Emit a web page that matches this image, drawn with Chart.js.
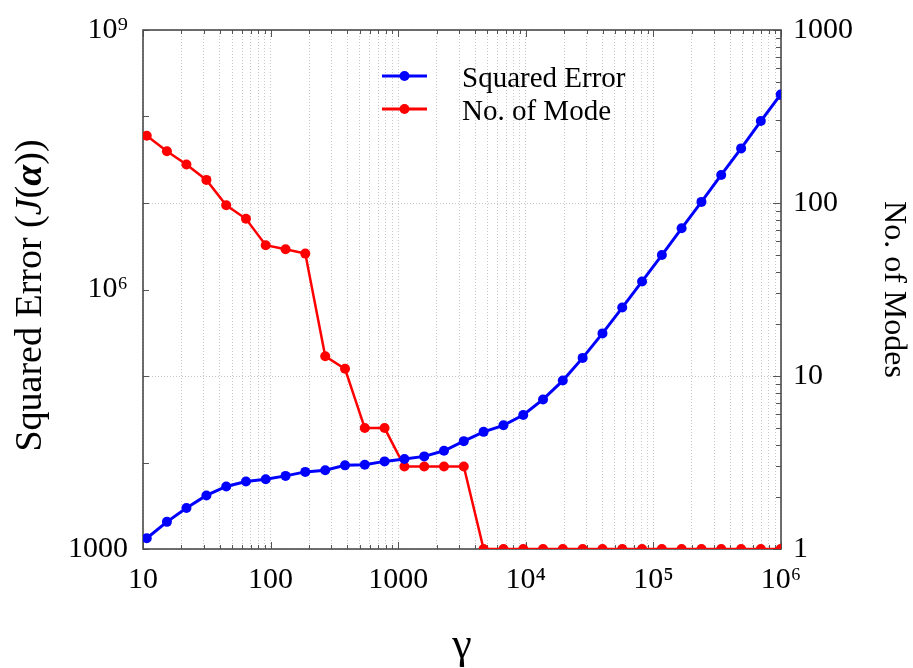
<!DOCTYPE html>
<html>
<head>
<meta charset="utf-8">
<script src="https://cdn.jsdelivr.net/npm/chart.js@4/dist/chart.umd.min.js"></script>
<style>
html,body{margin:0;padding:0;background:#fff;}
#wrap{width:913px;height:668px;}
</style>
</head>
<body>
<div id="wrap"><canvas id="c" width="913" height="668"></canvas></div>
<script>
// ---- data ----
const gamma = [10.7, 15.4, 21.9, 31.4, 44.9, 64.1, 91.6, 131, 187, 268, 383, 547, 782, 1119, 1600, 2285, 3266, 4670, 6680, 9550, 13650, 19500, 27900, 39900, 57000, 81500, 116500, 166400, 238000, 340000, 487000, 695000, 994000];
const squaredError = [1330, 2060, 2980, 4160, 5280, 6030, 6410, 7000, 7790, 8130, 9270, 9440, 10300, 10970, 11770, 13680, 17660, 22600, 26900, 35400, 53600, 88500, 162000, 311000, 618000, 1240000, 2500000, 5100000, 10300000, 21100000, 42800000, 88700000, 180000000];
const numModes = [245, 199, 167, 136, 97, 81, 57, 54, 51, 13, 11, 5, 5, 3, 3, 3, 3, 1, 1, 1, 1, 1, 1, 1, 1, 1, 1, 1, 1, 1, 1, 1, 1];
const seriesLabels = ['Squared Error', 'No. of Mode'];
const xTickLabels = {1: '10', 2: '100', 3: '1000', 4: '10\u2074', 5: '10\u2075', 6: '10\u2076'};
const yTickLabels = {3: '1000', 6: '10\u2076', 9: '10\u2079'};
const y2TickLabels = {0: '1', 1: '10', 2: '100', 3: '1000'};
// left title pieces: [text, style]
const yTitleParts = [['Squared Error (', ''], ['J', 'italic '], ['(', ''], ['\u03b1', 'italic bold '], ['))', '']];
const axisTitles = {x: '\u03b3', y2: 'No. of Modes'};

const SERIF = '"Liberation Serif", "DejaVu Serif", serif';
const GRID = '#c8c8c8';

function decadeTicks(min, max) {
  const out = [];
  for (let e = Math.round(Math.log10(min)); e < Math.round(Math.log10(max)); e++) {
    for (let m = 1; m < 10; m++) out.push({value: m * Math.pow(10, e)});
  }
  out.push({value: max});
  return out;
}
function majorTicks(min, max) {
  const out = [];
  for (let e = Math.round(Math.log10(min)); e <= Math.round(Math.log10(max)); e++) out.push({value: Math.pow(10, e)});
  return out;
}
function isMajor(v) { const l = Math.log10(v); return Math.abs(l - Math.round(l)) < 1e-9; }

const frame = {
  id: 'frame',
  beforeDatasetsDraw(chart) {
    const {ctx, chartArea: a, scales} = chart;
    ctx.save();
    ctx.strokeStyle = '#555';
    ctx.lineWidth = 1;
    decadeTicks(10, 1e6).forEach(t => {
      const px = Math.round(scales.x.getPixelForValue(t.value)) + 0.5;
      const len = isMajor(t.value) ? 7 : 4;
      ctx.beginPath();
      ctx.moveTo(px, a.bottom); ctx.lineTo(px, a.bottom - len);
      ctx.moveTo(px, a.top); ctx.lineTo(px, a.top + len);
      ctx.stroke();
    });
    majorTicks(1000, 1e9).forEach(t => {
      const py = Math.round(scales.y.getPixelForValue(t.value)) + 0.5;
      ctx.beginPath(); ctx.moveTo(a.left, py); ctx.lineTo(a.left + 6, py); ctx.stroke();
    });
    decadeTicks(1, 1000).forEach(t => {
      const py = Math.round(scales.y2.getPixelForValue(t.value)) + 0.5;
      const len = isMajor(t.value) ? 8 : 5;
      ctx.beginPath(); ctx.moveTo(a.right, py); ctx.lineTo(a.right - len, py); ctx.stroke();
    });
    ctx.lineWidth = 1.6;
    ctx.strokeStyle = '#4a4a4a';
    ctx.strokeRect(a.left, a.top, a.right - a.left, a.bottom - a.top);
    ctx.restore();
  },
  afterDraw(chart) {
    const {ctx, chartArea: a} = chart;
    ctx.save();
    // legend inside the plot
    const x0 = a.left + 239, x1 = a.left + 284, tx = a.left + 319;
    chart.data.datasets.forEach((ds, i) => {
      const y = a.top + 46 + i * 33;
      ctx.strokeStyle = ds.borderColor;
      ctx.lineWidth = 3;
      ctx.beginPath(); ctx.moveTo(x0, y); ctx.lineTo(x1, y); ctx.stroke();
      ctx.fillStyle = ds.borderColor;
      ctx.beginPath(); ctx.arc((x0 + x1) / 2, y, 5, 0, Math.PI * 2); ctx.fill();
      ctx.fillStyle = '#000';
      ctx.font = '29px ' + SERIF;
      ctx.textBaseline = 'alphabetic';
      ctx.textAlign = 'left';
      ctx.fillText(ds.label, tx, y + 11);
    });
    // left axis title with mixed styles
    const size = 38;
    let total = 0;
    const widths = yTitleParts.map(([t, st]) => { ctx.font = st + size + 'px ' + SERIF; const w = ctx.measureText(t).width; total += w; return w; });
    ctx.translate(28, (a.top + a.bottom) / 2 + 6);
    ctx.rotate(-Math.PI / 2);
    ctx.textBaseline = 'alphabetic';
    ctx.textAlign = 'left';
    ctx.fillStyle = '#000';
    let cx = -total / 2;
    const baseY = size * 0.34;
    yTitleParts.forEach(([t, st], i) => {
      ctx.font = st + size + 'px ' + SERIF;
      ctx.fillText(t, cx, baseY);
      cx += widths[i];
    });
    ctx.restore();
  }
};

new Chart(document.getElementById('c'), {
  type: 'line',
  data: {
    datasets: [
      {
        label: seriesLabels[0],
        data: gamma.map((g, i) => ({x: g, y: squaredError[i]})),
        yAxisID: 'y',
        borderColor: '#0000ff',
        backgroundColor: '#0000ff',
        borderWidth: 3,
        pointRadius: 5,
        pointBorderWidth: 0,
        tension: 0
      },
      {
        label: seriesLabels[1],
        data: gamma.map((g, i) => ({x: g, y: numModes[i]})),
        yAxisID: 'y2',
        borderColor: '#ff0000',
        backgroundColor: '#ff0000',
        borderWidth: 2.5,
        pointRadius: 5,
        pointBorderWidth: 0,
        tension: 0
      }
    ]
  },
  options: {
    responsive: false,
    animation: false,
    devicePixelRatio: 1,
    layout: {padding: {top: 26, left: 0, right: 0, bottom: 0}},
    plugins: {legend: {display: false}, tooltip: {enabled: false}},
    scales: {
      x: {
        type: 'logarithmic', position: 'bottom', min: 10, max: 1e6,
        afterBuildTicks: s => { s.ticks = decadeTicks(10, 1e6); },
        afterFit: s => { s.height = 119; },
        border: {display: false, dash: [1, 2]},
        grid: {color: GRID, drawTicks: false, lineWidth: 1},
        ticks: {
          autoSkip: false, maxRotation: 0, padding: 13, color: '#000',
          font: {family: SERIF, size: 30},
          callback: v => { const l = Math.round(Math.log10(v)); return isMajor(v) ? xTickLabels[l] : ''; }
        },
        title: {display: true, text: axisTitles.x, color: '#000', font: {family: SERIF, size: 44, lineHeight: 1}, padding: {bottom: 0}}
      },
      y: {
        type: 'logarithmic', position: 'left', min: 1000, max: 1e9,
        afterBuildTicks: s => { s.ticks = majorTicks(1000, 1e9); },
        afterFit: s => { s.width = 143; },
        border: {display: false},
        grid: {display: false},
        ticks: {
          autoSkip: false, padding: 7, color: '#000',
          font: {family: SERIF, size: 30},
          callback: v => { const l = Math.round(Math.log10(v)); return yTickLabels[l] || ''; }
        },
        title: {display: false}
      },
      y2: {
        type: 'logarithmic', position: 'right', min: 1, max: 1000,
        afterBuildTicks: s => { s.ticks = majorTicks(1, 1000); },
        afterFit: s => { s.width = 132; },
        border: {display: false, dash: [1, 2]},
        grid: {color: GRID, drawTicks: false, lineWidth: 1},
        ticks: {
          autoSkip: false, padding: 12, color: '#000',
          font: {family: SERIF, size: 30},
          callback: v => { const l = Math.round(Math.log10(v)); return y2TickLabels[l] || ''; }
        },
        title: {display: true, text: axisTitles.y2, color: '#000', font: {family: SERIF, size: 32}, padding: {top: 0}}
      }
    }
  },
  plugins: [frame]
});
</script>
</body>
</html>
